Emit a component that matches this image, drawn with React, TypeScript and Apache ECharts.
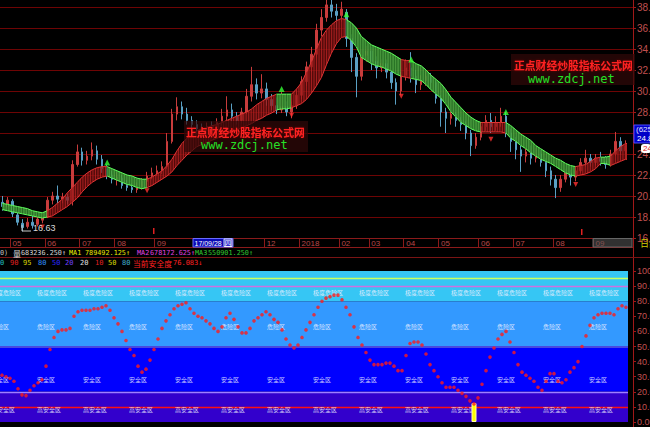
import React, { useEffect, useRef } from "react";
import * as echarts from "echarts";

// ---------------- price panel data (one candle per slot) ----------------
const opens = [
  19.4, 19.0, 19.5, 18.2, 17.4, 17.1, 17.5, 17.3, 17.7, 18.0,
  19.6, 20.0, 19.7, 19.9, 19.5, 23.0, 24.2, 23.4, 23.8, 24.3,
  23.5, 22.6, 22.0, 21.6, 21.7, 21.0, 20.8, 20.6, 20.9, 21.4,
  21.9, 22.2, 22.4, 22.8, 25.2, 27.8, 28.5, 27.8, 27.2, 26.8,
  26.4, 26.2, 26.6, 26.3, 27.0, 27.6, 28.2, 27.6, 27.2, 28.0,
  29.5, 30.6, 29.8, 30.2, 29.2, 28.6, 28.2, 28.5, 28.0, 28.6,
  29.6, 30.9, 32.3, 33.5, 35.8, 37.0, 38.2, 37.6, 37.2, 37.5,
  35.0, 33.2, 31.4, 33.4, 33.8, 32.8, 32.2, 32.6, 31.8, 30.8,
  30.0, 31.5, 32.2, 31.4, 30.6, 31.0, 31.4, 30.8, 29.3, 28.0,
  27.4, 27.8, 27.2, 26.8, 26.0, 24.8, 25.6, 26.6, 27.2, 26.6,
  27.0, 27.6, 26.0, 25.2, 24.4, 23.8, 24.2, 23.6, 24.0, 23.2,
  22.4, 21.6, 20.8, 21.6, 22.2, 21.8, 22.4, 23.2, 23.6, 23.2,
  23.6, 23.3, 23.0, 24.0, 25.2, 24.3,
];
const closes = [
  19.0, 19.6, 18.3, 17.5, 17.0, 17.5, 17.2, 17.8, 18.0, 19.6,
  20.0, 19.7, 19.9, 19.6, 23.0, 24.2, 23.4, 23.8, 24.4, 23.5,
  22.6, 22.0, 21.6, 21.8, 21.0, 20.8, 20.6, 20.9, 21.4, 21.9,
  22.2, 22.4, 22.8, 25.2, 27.8, 28.5, 27.8, 27.2, 26.8, 26.4,
  26.2, 26.6, 26.3, 27.0, 27.6, 28.2, 27.6, 27.2, 28.0, 29.5,
  30.6, 29.8, 30.2, 29.2, 28.6, 28.2, 28.5, 28.0, 28.6, 29.6,
  30.9, 32.3, 33.5, 35.8, 37.0, 38.2, 37.6, 37.2, 37.8, 35.0,
  33.2, 31.4, 33.4, 33.8, 32.8, 32.2, 32.6, 31.8, 30.8, 30.0,
  31.5, 32.2, 31.4, 30.6, 31.0, 31.4, 30.8, 29.3, 28.0, 27.4,
  27.8, 27.2, 26.8, 26.0, 24.8, 25.6, 26.6, 27.2, 26.6, 27.0,
  27.6, 26.0, 25.2, 24.4, 23.8, 24.2, 23.6, 24.0, 23.2, 22.4,
  21.6, 20.8, 21.6, 22.2, 21.8, 22.4, 23.2, 23.6, 23.2, 23.6,
  23.3, 23.0, 24.0, 25.2, 24.3, 24.8,
];
const lows = [
  18.6, 18.7, 18.0, 17.2, 16.63, 16.9, 16.9, 17.1, 17.4, 17.9,
  19.2, 19.3, 19.3, 19.2, 19.1, 22.8, 22.9, 23.0, 23.4, 23.0,
  22.2, 21.6, 21.2, 21.0, 20.7, 20.5, 20.3, 20.3, 20.6, 21.0,
  21.6, 21.9, 22.1, 22.6, 25.0, 27.2, 27.3, 26.8, 26.3, 25.9,
  25.8, 25.9, 25.9, 26.0, 26.7, 27.2, 27.1, 26.8, 26.9, 27.8,
  29.0, 29.2, 29.3, 28.6, 28.2, 27.8, 27.9, 27.6, 27.4, 28.3,
  29.2, 30.5, 31.8, 33.2, 35.2, 36.6, 37.0, 35.8, 36.6, 34.2,
  31.8, 29.4, 31.0, 32.8, 32.0, 31.2, 31.8, 31.2, 30.2, 28.7,
  29.6, 31.0, 30.8, 29.8, 30.1, 30.5, 30.2, 28.8, 26.6, 26.0,
  26.8, 26.6, 26.2, 25.4, 23.8, 24.5, 25.3, 26.2, 26.0, 26.2,
  26.6, 25.6, 24.2, 23.5, 22.3, 23.2, 23.0, 23.2, 22.8, 21.8,
  21.0, 19.8, 20.4, 21.3, 21.0, 21.4, 22.2, 22.8, 22.8, 22.9,
  22.9, 22.6, 22.8, 23.8, 23.9, 24.0,
];
const highs = [
  20.0, 19.9, 19.7, 18.6, 17.8, 17.9, 18.2, 18.0, 18.4, 19.9,
  20.4, 21.0, 20.3, 20.2, 23.4, 24.9, 24.6, 24.3, 25.1, 24.8,
  23.9, 23.0, 22.4, 22.3, 22.0, 21.5, 21.2, 21.3, 21.7, 22.3,
  22.7, 22.9, 23.3, 26.0, 28.3, 29.4, 29.0, 28.4, 27.6, 27.2,
  26.9, 27.0, 27.1, 27.4, 28.3, 29.5, 28.8, 28.0, 28.4, 30.2,
  32.3, 31.2, 31.6, 30.8, 29.7, 29.4, 29.9, 29.0, 29.0, 30.2,
  31.4, 32.8, 34.2, 36.4, 37.8, 38.9, 39.0, 38.3, 38.5, 37.8,
  35.4, 33.6, 34.0, 34.3, 34.2, 33.3, 33.0, 33.0, 32.0, 31.2,
  31.8, 33.0, 33.7, 32.0, 31.5, 31.9, 31.7, 31.0, 29.6, 28.4,
  28.1, 28.0, 27.5, 27.1, 26.3, 26.0, 27.0, 27.7, 27.9, 27.6,
  28.4, 28.0, 26.4, 25.6, 24.8, 24.6, 24.8, 24.6, 24.4, 23.6,
  22.8, 22.0, 22.0, 22.6, 22.5, 22.8, 23.6, 24.4, 24.0, 24.0,
  24.2, 23.8, 24.4, 26.1, 25.6, 25.3,
];
// trend ribbon (upper / lower edge) and its state: 1 = red (up), 0 = green (down)
const bandTop = [
  19.3, 19.2, 19.1, 19.0, 18.9, 18.8, 18.6, 18.5, 18.4, 18.6,
  18.9, 19.3, 19.7, 20.3, 20.8, 21.3, 21.8, 22.2, 22.5, 22.7,
  22.8, 22.8, 22.6, 22.4, 22.2, 22.0, 21.9, 21.7, 21.6, 21.6,
  21.8, 22.1, 22.4, 22.9, 23.5, 24.3, 25.0, 25.5, 25.9, 26.2,
  26.4, 26.5, 26.7, 26.8, 27.0, 27.2, 27.4, 27.6, 27.8, 28.0,
  28.3, 28.7, 29.0, 29.3, 29.5, 29.7, 29.7, 29.7, 29.7, 30.2,
  30.8, 31.8, 32.8, 34.0, 35.1, 35.8, 36.3, 36.7, 36.9, 36.8,
  36.5, 36.0, 35.2, 34.8, 34.4, 34.2, 34.0, 33.8, 33.6, 33.3,
  33.0, 32.9, 32.9, 32.6, 32.4, 32.0, 31.5, 31.1, 30.7, 30.1,
  29.4, 28.9, 28.4, 27.9, 27.5, 27.2, 27.0, 27.0, 27.0, 27.0,
  27.0, 27.0, 26.7, 26.3, 25.9, 25.6, 25.3, 24.8, 24.5, 24.2,
  23.9, 23.6, 23.4, 23.1, 22.9, 22.8, 22.9, 23.0, 23.3, 23.6,
  23.7, 23.7, 23.8, 24.3, 24.7, 25.0,
];
const bandBot = [
  18.7, 18.6, 18.5, 18.4, 18.3, 18.2, 18.1, 18.0, 17.9, 18.0,
  18.1, 18.4, 18.7, 19.0, 19.4, 19.8, 20.4, 20.9, 21.3, 21.6,
  21.8, 21.9, 21.7, 21.5, 21.3, 21.1, 21.0, 20.8, 20.7, 20.8,
  21.0, 21.3, 21.6, 21.9, 22.3, 22.9, 23.4, 23.9, 24.3, 24.7,
  24.9, 25.1, 25.3, 25.5, 25.7, 25.9, 26.1, 26.3, 26.5, 26.7,
  26.9, 27.2, 27.4, 27.7, 27.9, 28.2, 28.3, 28.3, 28.4, 28.6,
  28.8, 29.2, 29.8, 30.5, 31.3, 32.5, 33.6, 34.5, 35.1, 35.2,
  34.8, 34.2, 33.2, 32.9, 32.6, 32.4, 32.3, 32.1, 31.9, 31.6,
  31.4, 31.3, 31.2, 31.1, 31.0, 30.6, 30.1, 29.7, 29.3, 28.7,
  28.0, 27.5, 27.0, 26.7, 26.4, 26.2, 26.1, 26.1, 26.1, 26.1,
  26.1, 26.0, 25.5, 25.2, 24.8, 24.5, 24.1, 23.8, 23.5, 23.3,
  23.1, 22.8, 22.5, 22.2, 22.0, 21.9, 22.0, 22.1, 22.3, 22.6,
  23.1, 23.1, 22.9, 23.1, 23.3, 23.5,
];
const bandState = [
  0, 0, 0, 0, 0, 0, 0, 0, 0, 1,
  1, 1, 1, 1, 1, 1, 1, 1, 1, 1,
  1, 0, 0, 0, 0, 0, 0, 0, 0, 1,
  1, 1, 1, 1, 1, 1, 1, 1, 1, 1,
  1, 1, 1, 1, 1, 1, 1, 1, 1, 1,
  1, 1, 1, 1, 1, 0, 0, 0, 1, 1,
  1, 1, 1, 1, 1, 1, 1, 1, 1, 0,
  0, 0, 0, 0, 0, 0, 0, 0, 0, 0,
  1, 1, 0, 0, 0, 0, 0, 0, 0, 0,
  0, 0, 0, 0, 0, 0, 1, 1, 1, 1,
  1, 0, 0, 0, 0, 0, 0, 0, 0, 0,
  0, 0, 0, 0, 0, 1, 1, 1, 1, 1,
  0, 0, 1, 1, 1, 1,
];
// signal marks: [candle index, price]
const greenSignals = [[21, 23.2], [56, 30.2], [69, 37.3], [82, 33.0], [101, 28.0]];
const redSignals = [[8, 17.05], [29, 20.5], [58, 27.7], [80, 29.5], [98, 25.4], [115, 21.1]];
// month tick labels: [candle index, label]
const monthTicks: [number, string][] = [
  [2, "05"], [9, "06"], [16, "07"], [23, "08"], [31, "09"], [53, "12"], [60, "2018"],
  [68, "02"], [74, "03"], [81, "04"], [88, "05"], [96, "06"], [103, "07"], [111, "08"], [119, "09"],
];
const priceMin = 16;
const priceMax = 38;
const priceStep = 2;

// ---------------- 安全度 indicator panel ----------------
const safety = [
  31, 30, 29, 27, 22, 18, 17.5, 21, 24, 26,
  28, 37, 48, 56, 60, 61, 61, 62, 70, 73,
  74, 74, 74, 75, 75, 76, 77, 74, 69, 65,
  60, 54, 48, 44, 37, 33, 35, 41, 48, 55,
  62, 67, 71, 75, 77, 78, 79, 75, 72, 70,
  69, 67, 65, 62, 60, 63, 69, 72, 68, 63,
  59, 59, 62, 67, 69, 71, 73, 71, 68, 66,
  61, 55, 51, 49, 51, 56, 61, 66, 71, 76,
  80, 82, 83, 84, 84, 81, 76, 71, 63, 56,
  51, 46, 41, 38, 38, 38, 39, 39, 37, 34,
  34, 44, 52, 53, 53, 51, 45, 38, 34, 30,
  26, 23, 23, 23, 21, 19, 17, 14, 12, 16,
  25, 34, 43, 49, 55, 58, 60, 53, 46, 38,
  33, 31, 29, 27, 23, 21, 27, 32, 32, 27,
  26, 28, 33, 36, 40, 50, 57, 64, 69, 71,
  72, 72, 72, 71, 75, 77, 76,
];
const alertIndex = 118;
const alertValue = 12.5;
const zoneBreaks = [100, 80, 50, 20, 0];
const refLevels = [95, 90, 50, 20, 10];
const zoneNames = ["极度危险区", "危险区", "安全区", "高安全区"];
const zoneLabelValues = [86, 63, 28, 8];

// header values
const volumeText = "683236.250↑";
const ma1Text = "789492.125↑";
const ma2Text = "678172.625↑";
const ma3Text = "550901.250↑";
const levelTexts = ["0", "90", "95", "80", "50", "20", "20", "10", "50", "80"];
const safetyNow = "76.083↓";
const lowLabel = "16.63";

// ---------------- layout ----------------
const TOP_Y = 7;
const TOP_H = 231;
const TOP_W = 633;
const BOT_Y = 271;
const BOT_H = 151;
const BOT_W = 628;

const CJK = "'Noto Sans CJK SC','Liberation Sans',sans-serif";
const SANS = "'Liberation Sans','Noto Sans CJK SC',sans-serif";
const MONO = "'DejaVu Sans Mono','Liberation Mono',monospace";

function txt(x: number, y: number, text: string, fill: string, size: number, extra: any = {}) {
  return {
    type: "text",
    x,
    y,
    z: extra.z ?? 30,
    silent: true,
    style: {
      text,
      fill,
      fontSize: size,
      fontFamily: extra.fontFamily ?? SANS,
      fontWeight: extra.fontWeight ?? "normal",
      verticalAlign: "middle",
      align: "left",
      opacity: extra.opacity ?? 1,
      textShadowColor: extra.shadow,
      textShadowBlur: extra.shadow ? 2 : 0,
    },
  };
}

function buildOption() {
  const N = opens.length;
  const candleCats = Array.from({ length: N + 1 }, (_, i) => String(i));
  const monthMap: Record<number, string> = {};
  monthTicks.forEach(([i, l]) => (monthMap[i] = l));
  const botCats = safety.map((_, i) => String(i));

  const candleData = opens.map((o, i) => [o, closes[i], lows[i], highs[i]]);
  const ribbonData = bandTop.map((t, i) => [i, t, bandBot[i]]);

  const renderRibbon = (params: any, api: any) => {
    const i = params.dataIndex;
    const up = bandState[i] === 1;
    const j = Math.min(i + 1, N - 1);
    const t0 = api.coord([i, bandTop[i]]);
    const b0 = api.coord([i, bandBot[i]]);
    let t1 = api.coord([j, bandTop[j]]);
    let b1 = api.coord([j, bandBot[j]]);
    if (j === i) {
      t1 = [t0[0] + 1.5, t0[1]];
      b1 = [b0[0] + 1.5, b0[1]];
    }
    const children: any[] = [];
    children.push({
      type: "polygon",
      shape: { points: [t0, t1, b1, b0] },
      style: { fill: up ? "rgba(80,4,4,0.55)" : "rgba(104,200,86,0.85)" },
    });
    for (let k = 0; k < 3; k++) {
      const f = k / 3;
      const x = t0[0] + (t1[0] - t0[0]) * f;
      const yt = t0[1] + (t1[1] - t0[1]) * f;
      const yb = b0[1] + (b1[1] - b0[1]) * f;
      children.push({
        type: "line",
        shape: { x1: x, y1: yt, x2: x, y2: yb },
        style: { stroke: up ? "#b42222" : "#1f6a1f", lineWidth: 0.9 },
      });
    }
    const edge = up ? "#e23434" : "#5cff5c";
    children.push({ type: "line", shape: { x1: t0[0], y1: t0[1], x2: t1[0], y2: t1[1] }, style: { stroke: edge, lineWidth: 1 } });
    children.push({ type: "line", shape: { x1: b0[0], y1: b0[1], x2: b1[0], y2: b1[1] }, style: { stroke: edge, lineWidth: 1 } });
    return { type: "group", children };
  };

  const zoneColors = ["#36c6f4", "#3399ff", "#0000ff", "#3300cc"];
  const levelColors = ["#c8ff60", "#d070e0", "#4848e0", "#a080ff", "#ff1010"];
  const markAreaData = zoneColors.map((c, k) => [
    { yAxis: zoneBreaks[k], itemStyle: { color: c } },
    { yAxis: zoneBreaks[k + 1] },
  ]);
  const markLineData = refLevels.map((v, k) => ({
    yAxis: v,
    lineStyle: { color: levelColors[k], width: v === 50 ? 2 : 1.3, type: "solid" },
  }));

  const botY = (v: number) => BOT_Y + ((100 - v) * BOT_H) / 100;

  const graphic: any[] = [];
  // right axis line & separators
  graphic.push({ type: "line", z: 25, silent: true, shape: { x1: 633.5, y1: 0, x2: 633.5, y2: 427 }, style: { stroke: "#a01818", lineWidth: 1 } });
  graphic.push({ type: "line", z: 25, silent: true, shape: { x1: 0, y1: 247.5, x2: 633, y2: 247.5 }, style: { stroke: "#8b1a1a", lineWidth: 1 } });
  graphic.push({ type: "line", z: 25, silent: true, shape: { x1: 0, y1: 257.5, x2: 650, y2: 257.5 }, style: { stroke: "#7a1414", lineWidth: 1 } });
  // cursor date box
  graphic.push({ type: "rect", z: 26, silent: true, shape: { x: 193, y: 238.5, width: 40, height: 8.5 }, style: { fill: "#0a0ab4", stroke: "#6a6aff", lineWidth: 1 } });
  graphic.push(txt(194.5, 243, "17/09/28", "#ffffff", 7, { z: 27 }));
  graphic.push({ type: "rect", z: 27, silent: true, shape: { x: 224, y: 239, width: 8, height: 7.5 }, style: { fill: "#3030d0", stroke: "#ffffff", lineWidth: 0.8 } });
  graphic.push(txt(224.5, 243, "四", "#ffffff", 7, { z: 28, fontFamily: CJK }));
  // last month grey box
  graphic.push({ type: "rect", z: 26, silent: true, shape: { x: 593, y: 238.5, width: 39, height: 8.5 }, style: { fill: "rgba(90,90,90,0.55)", stroke: "#666", lineWidth: 1 } });
  graphic.push(txt(640, 243, "日线", "#d0d000", 9, { z: 27, fontFamily: CJK }));
  // price tags on the right axis
  graphic.push({ type: "rect", z: 26, silent: true, shape: { x: 634, y: 125, width: 16, height: 18 }, style: { fill: "#0000c8", stroke: "#4c4cff", lineWidth: 1 } });
  graphic.push(txt(636, 129.5, "(625", "#e0e0ff", 8, { z: 27 }));
  graphic.push(txt(637, 138.5, "24.8", "#ffffff", 8, { z: 27 }));
  graphic.push({ type: "rect", z: 26, silent: true, shape: { x: 641, y: 144, width: 10, height: 9, r: 3 }, style: { fill: "#ffffff" } });
  graphic.push(txt(643, 148.5, "24.79", "#e02020", 8, { z: 27 }));
  // low label
  graphic.push({ type: "polyline", z: 26, silent: true, shape: { points: [[22, 225], [22, 231], [31, 231]] }, style: { stroke: "#c8c8c8", lineWidth: 1, fill: "none" } });
  graphic.push(txt(33, 228, lowLabel, "#d8d8d8", 9, { z: 27 }));
  // small red marks at the bottom of the price panel
  graphic.push({ type: "rect", z: 26, silent: true, shape: { x: 153, y: 228, width: 1.5, height: 6 }, style: { fill: "#e02020" } });
  graphic.push({ type: "rect", z: 26, silent: true, shape: { x: 581, y: 229, width: 1.5, height: 6 }, style: { fill: "#e02020" } });
  // watermarks
  const marks = [
    { bx: 184, by: 121, tx: 186, ty: 131.5, gx: 201, gy: 145 },
    { bx: 511, by: 54, tx: 514, ty: 65, gx: 528, gy: 79 },
  ];
  marks.forEach((m) => {
    graphic.push({ type: "rect", z: 40, silent: true, shape: { x: m.bx, y: m.by, width: 124, height: 31 }, style: { fill: "rgba(48,8,8,0.72)" } });
    graphic.push(txt(m.tx, m.ty, "正点财经炒股指标公式网", "#ff2222", 10.8, { z: 41, fontFamily: CJK, fontWeight: "bold", shadow: "rgba(120,0,0,0.9)" }));
    graphic.push(txt(m.gx, m.gy, "www.zdcj.net", "#26e026", 12, { z: 41, fontFamily: MONO }));
  });
  // header line 1
  const h1: [number, string, string][] = [
    [0, "0)", "#c8c8c8"], [13, "量", "#d8d8d8"], [21, volumeText, "#d8d8d8"],
    [69, "MA1", "#e8e800"], [85, ma1Text, "#e8e800"],
    [137, "MA2", "#e040e0"], [150, ma2Text, "#e040e0"],
    [195, "MA3", "#30c830"], [208, ma3Text, "#30c830"],
  ];
  h1.forEach(([x, t, c]) =>
    graphic.push(t === "量" ? txt(x, 253, t, c, 8, { fontFamily: CJK }) : txt(x, 253, t, c, 6.8, { fontFamily: MONO }))
  );
  // header line 2
  const h2x = [0, 10, 23, 38, 52, 65, 80, 95, 108, 122];
  const h2c = ["#20c0c0", "#e02020", "#d8d800", "#3090ff", "#2828ff", "#7040ff", "#e0e0e0", "#e02020", "#d8d800", "#40b0d0"];
  levelTexts.forEach((t, k) => graphic.push(txt(h2x[k], 263, t, h2c[k], 7, { fontFamily: MONO })));
  graphic.push(txt(133, 263, "当前安全度", "#ff2020", 7.8, { fontFamily: CJK }));
  graphic.push(txt(173, 263, safetyNow, "#ff2020", 7, { fontFamily: MONO }));
  // zone labels
  for (let k = -1; k <= 12; k++) {
    const x = 37 + 46 * k;
    zoneNames.forEach((name, j) => {
      graphic.push(txt(x, botY(zoneLabelValues[j]), name, "rgba(236,240,255,0.85)", 6, { z: 6, fontFamily: CJK }));
    });
  }

  return {
    animation: false,
    backgroundColor: "#000000",
    textStyle: { fontFamily: SANS },
    grid: [
      { left: 0, top: TOP_Y, width: TOP_W, height: TOP_H, containLabel: false, outerBoundsMode: "none" },
      { left: 0, top: BOT_Y, width: BOT_W, height: BOT_H, containLabel: false, outerBoundsMode: "none" },
    ],
    xAxis: [
      {
        type: "category",
        gridIndex: 0,
        data: candleCats,
        boundaryGap: true,
        axisLine: { show: true, lineStyle: { color: "#8b1a1a", width: 1 } },
        axisTick: {
          show: true,
          length: 9,
          interval: (idx: number) => monthMap[idx] !== undefined,
          lineStyle: { color: "#8b1a1a" },
        },
        axisLabel: {
          interval: 0,
          margin: 1,
          align: "left",
          color: "#b84848",
          fontSize: 8,
          formatter: (_v: string, idx: number) => monthMap[idx] ?? "",
        },
        splitLine: { show: false },
      },
      { type: "category", gridIndex: 1, data: botCats, boundaryGap: true, show: false },
    ],
    yAxis: [
      {
        type: "value",
        gridIndex: 0,
        position: "right",
        min: priceMin,
        max: priceMax,
        interval: priceStep,
        axisLine: { show: false },
        axisTick: { show: true, length: 3, lineStyle: { color: "#a01818" } },
        axisLabel: { color: "#c05050", fontSize: 10, margin: 4, formatter: (v: number) => v.toFixed(2) },
        splitLine: { show: true, lineStyle: { color: "#6e0404", width: 1 } },
      },
      {
        type: "value",
        gridIndex: 1,
        position: "right",
        offset: 5,
        min: 0,
        max: 100,
        interval: 10,
        axisLine: { show: false },
        axisTick: { show: true, length: 3, lineStyle: { color: "#a01818" } },
        axisLabel: { color: "#c05050", fontSize: 9, margin: 4, formatter: (v: number) => v.toFixed(2) },
        splitLine: { show: false },
      },
    ],
    series: [
      {
        type: "candlestick",
        xAxisIndex: 0,
        yAxisIndex: 0,
        data: candleData,
        barWidth: 2,
        clip: false,
        z: 2,
        itemStyle: {
          color: "#c83c3c",
          color0: "#5aa0c4",
          borderColor: "#c83c3c",
          borderColor0: "#5aa0c4",
          borderWidth: 1,
        },
      },
      {
        type: "custom",
        xAxisIndex: 0,
        yAxisIndex: 0,
        data: ribbonData,
        encode: { x: 0, y: [1, 2] },
        renderItem: renderRibbon,
        z: 3,
        silent: true,
      },
      {
        type: "scatter",
        xAxisIndex: 0,
        yAxisIndex: 0,
        data: greenSignals,
        symbol: "triangle",
        symbolSize: 6,
        itemStyle: { color: "#33ff33" },
        z: 4,
        silent: true,
      },
      {
        type: "scatter",
        xAxisIndex: 0,
        yAxisIndex: 0,
        data: redSignals,
        symbol: "triangle",
        symbolRotate: 180,
        symbolSize: 5,
        itemStyle: { color: "#ff3030" },
        z: 4,
        silent: true,
      },
      {
        type: "line",
        xAxisIndex: 1,
        yAxisIndex: 1,
        data: safety.map(() => null),
        symbol: "none",
        z: 1,
        silent: true,
        markArea: { silent: true, z: 1, data: markAreaData },
        markLine: { silent: true, z: 5, symbol: ["none", "none"], label: { show: false }, data: markLineData },
      },
      {
        type: "bar",
        xAxisIndex: 1,
        yAxisIndex: 1,
        data: safety.map((_, i) => (i === alertIndex ? alertValue : null)),
        barWidth: 5,
        z: 9,
        itemStyle: { color: "#ffff00", borderColor: "#ffffb0", borderWidth: 1 },
        silent: true,
      },
      {
        type: "scatter",
        xAxisIndex: 1,
        yAxisIndex: 1,
        data: safety.map((v, i) => [i, v]),
        symbol: "circle",
        symbolSize: 3.6,
        itemStyle: { color: "#ff1a1a" },
        z: 10,
        silent: true,
      },
    ],
    graphic,
  };
}

export default function App() {
  const ref = useRef<HTMLDivElement>(null);
  useEffect(() => {
    if (!ref.current) return;
    const chart = echarts.init(ref.current, undefined, { renderer: "svg" });
    chart.setOption(buildOption() as any);
    return () => chart.dispose();
  }, []);
  return (
    <div
      ref={ref}
      style={{ position: "fixed", left: 0, top: 0, width: 650, height: 427, background: "#000" }}
    />
  );
}
